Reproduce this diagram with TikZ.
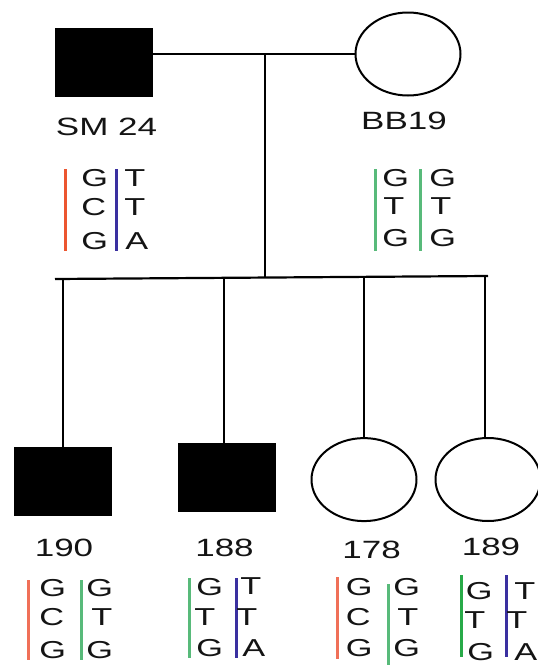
\documentclass[tikz,border=0pt]{standalone}
\usepackage{fontspec}
\setmainfont{Liberation Sans}
\usetikzlibrary{shapes.geometric}
\definecolor{rd}{RGB}{236,86,48}
\definecolor{rdl}{RGB}{240,112,88}
\definecolor{gn}{RGB}{88,186,122}
\definecolor{gnb}{RGB}{40,170,72}
\definecolor{bl}{RGB}{58,48,160}
\definecolor{txt}{RGB}{20,20,20}
\begin{document}
\begin{tikzpicture}[x=1pt,y=-1pt,
  male/.style={rectangle, fill=black, draw=none, inner sep=0pt, minimum width=98pt, minimum height=69pt},
  female/.style={ellipse, draw=black, line width=2pt, fill=white, inner sep=0pt, minimum width=105pt, minimum height=83pt},
  lbl/.style={font=\fontsize{25}{30}\selectfont, text=txt, xscale=1.4, inner sep=0pt},
  basel/.style={font=\fontsize{24.5}{28}\selectfont, text=txt, xscale=1.4, inner sep=0pt, anchor=west},
  ped/.style={line width=2.2pt, black},
  bar/.style={line width=3pt}]
\useasboundingbox (0,0) rectangle (538,667);

% persons
\node[male] (SM24) at (104,62) {};
\node[female] (BB19) at (408,54) {};
\node[male] (c190) at (62.7,481.5) {};
\node[male] (c188) at (226.6,477.7) {};
\node[female] (c178) at (364,479.6) {};
\node[female] (c189) at (488,479.5) {};

% labels
\node[lbl] (lSM) at (106.5,127) {SM 24};
\node[lbl] (lBB) at (404,121) {BB19};
\node[lbl] (l190) at (64,548) {190};
\node[lbl] (l188) at (224.5,548) {188};
\node[lbl] (l178) at (371.6,550) {178};
\node[lbl] (l189) at (491,547) {189};

% pedigree lines
\coordinate (mid) at (265,53);
\coordinate (sib) at (265,277.6);
\coordinate (sL) at (55,279);
\coordinate (sR) at (488,276);
\coordinate (d1) at (62.8,278.9);
\coordinate (d2) at (223.8,277.8);
\coordinate (d3) at (364,276.9);
\coordinate (d4) at (485,276.0);
\draw[ped] (SM24.east |- BB19.west) -- (BB19.west);
\draw[ped] (mid) -- (sib);
\draw[ped] (sL) -- (sR);
\draw[ped] (d1) -- (d1 |- c190.north);
\draw[ped] (d2) -- (d2 |- c188.north);
\draw[ped] (d3) -- (c178.north);
\draw[ped] (d4) -- (d4 |- c189.north);

% SM 24 genotype
\draw[bar,rd] (65.7,169) -- (65.7,251);
\draw[bar,bl] (116.7,169) -- (116.7,251);
\node[basel] (s11) at (81,178.5) {G};
\node[basel] (s12) at (81,207) {C};
\node[basel] (s13) at (81,241) {G};
\node[basel] (s21) at (124,178.5) {T};
\node[basel] (s22) at (124,207) {T};
\node[basel] (s23) at (125,241) {A};

% BB19 genotype
\draw[bar,gn] (375.7,169) -- (375.7,251);
\draw[bar,gn] (420,169) -- (420,251);
\node[basel] (b11) at (382,178) {G};
\node[basel] (b12) at (383,206) {T};
\node[basel] (b13) at (382,238) {G};
\node[basel] (b21) at (429,178) {G};
\node[basel] (b22) at (430,206) {T};
\node[basel] (b23) at (429,238) {G};

% 190 genotype
\draw[bar,rdl] (28.3,580) -- (28.3,660);
\draw[bar,gn] (81,580) -- (81,660);
\node[basel] (a11) at (39,588.5) {G};
\node[basel] (a12) at (39,617) {C};
\node[basel] (a13) at (39,650) {G};
\node[basel] (a21) at (86,588.5) {G};
\node[basel] (a22) at (91,617) {T};
\node[basel] (a23) at (86,650) {G};

% 188 genotype
\draw[bar,gn] (189.3,578) -- (189.3,658);
\draw[bar,bl] (236.7,578) -- (236.7,658);
\node[basel] (e11) at (196,587) {G};
\node[basel] (e12) at (194,617) {T};
\node[basel] (e13) at (196,648) {G};
\node[basel] (e21) at (240,586) {T};
\node[basel] (e22) at (236,617) {T};
\node[basel] (e23) at (242,648) {A};

% 178 genotype
\draw[bar,rdl] (337.7,577) -- (337.7,659);
\draw[bar,gn] (388.3,584) -- (388.3,665);
\node[basel] (f11) at (345.5,587) {G};
\node[basel] (f12) at (345.5,617) {C};
\node[basel] (f13) at (345.5,648.5) {G};
\node[basel] (f21) at (393,587) {G};
\node[basel] (f22) at (397,617) {T};
\node[basel] (f23) at (393,648.5) {G};

% 189 genotype
\draw[bar,gnb] (461.7,575) -- (461.7,657);
\draw[bar,bl] (506,575) -- (506,657);
\node[basel] (g11) at (465.5,591) {G};
\node[basel] (g12) at (464,620) {T};
\node[basel] (g13) at (467,652.5) {G};
\node[basel] (g21) at (514,591) {T};
\node[basel] (g22) at (506,620) {T};
\node[basel] (g23) at (514,652.5) {A};
\end{tikzpicture}
\end{document}
